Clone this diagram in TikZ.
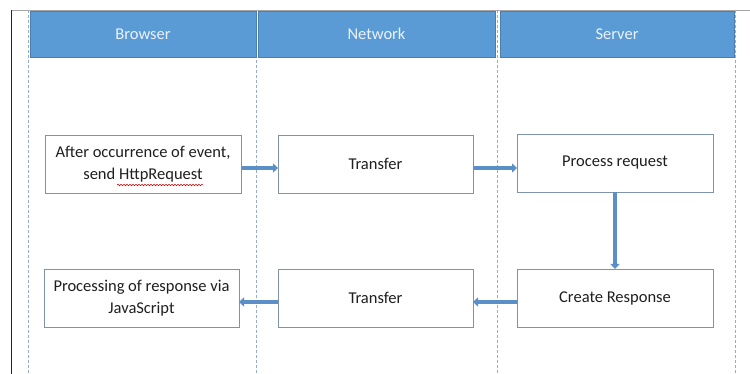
\documentclass[tikz,border=0pt]{standalone}
\usepackage{fontspec}
\setmainfont{Carlito}
\usetikzlibrary{arrows.meta,decorations.pathmorphing}
\definecolor{hdrfill}{HTML}{5B9BD5}
\definecolor{hdrline}{HTML}{4A7EB0}
\definecolor{hdrtext}{HTML}{EAF2FB}
\definecolor{boxline}{HTML}{7F93AD}
\definecolor{arrowc}{HTML}{5A8FC8}
\definecolor{dashc}{HTML}{93ADCB}
\begin{document}
\begin{tikzpicture}[x=1pt,y=-1pt,
  lane/.style={draw=dashc, line width=0.9pt, dash pattern=on 3pt off 2pt},
  hdr/.style={rectangle, fill=hdrfill, draw=hdrline, line width=0.6pt, text=hdrtext,
    minimum height=46pt, inner sep=0pt, outer sep=0pt, font=\fontsize{16.5}{21}\selectfont},
  stepbox/.style={rectangle, draw=boxline, line width=0.9pt, fill=white, text=black!88,
    minimum width=196pt, minimum height=58pt, inner sep=0pt, outer sep=0pt, align=center,
    font=\fontsize{16.5}{22}\selectfont},
  flow/.style={draw=arrowc, line width=3.6pt, -{Triangle[length=5pt,width=9pt]}}]
\useasboundingbox (0,0) rectangle (750,374);
\fill[white] (0,0) rectangle (750,374);
% frame lines
\draw[black!35, line width=0.8pt] (11,10) -- (750,10);
\draw[black!85, line width=1pt] (11,10) -- (11,374);
% lane separators
\coordinate (l1t) at (28,10);  \coordinate (l1b) at (28,374);
\coordinate (l2t) at (256.5,10); \coordinate (l2b) at (256.5,374);
\coordinate (l3t) at (497,10); \coordinate (l3b) at (497,374);
\coordinate (l4t) at (735,10); \coordinate (l4b) at (735,374);
\draw[lane] (l1t) -- (l1b);
\draw[lane] (l2t) -- (l2b);
\draw[lane] (l3t) -- (l3b);
\draw[lane] (l4t) -- (l4b);
% headers
\node[hdr, minimum width=226pt] (hb) at (143,34) {Browser};
\node[hdr, minimum width=237pt] (hn) at (376.5,34) {Network};
\node[hdr, minimum width=234pt] (hs) at (617,34) {Server};
% boxes
\node[stepbox] (b1) at (143,164) {After occurrence of event,\\send HttpRequest};
\node[stepbox, minimum width=195pt] (b2) at (375.5,164) {Transfer};
\node[stepbox] (b3) at (615,163) {Process request};
\node[stepbox] (b4) at (615,298) {Create Response};
\node[stepbox, minimum width=195pt] (b5) at (375.5,298) {Transfer};
\node[stepbox, minimum width=195pt] (b6) at (141.5,298) {Processing of response via\\JavaScript};
% spell-check squiggle
\draw[red!80!black, line width=0.5pt, decorate, decoration={snake, amplitude=0.8pt, segment length=3pt}] (117,185) -- (203,185);
% arrows
\draw[flow] ([yshift=-4pt]b1.east) -- ([yshift=-4pt]b2.west);
\draw[flow] ([yshift=-4pt]b2.east) -- ([yshift=-5pt]b3.west);
\draw[flow] (b3.south) -- (b4.north);
\draw[flow] ([yshift=-4pt]b4.west) -- ([yshift=-4pt]b5.east);
\draw[flow] ([yshift=-4pt]b5.west) -- ([yshift=-4pt]b6.east);
\end{tikzpicture}
\end{document}
